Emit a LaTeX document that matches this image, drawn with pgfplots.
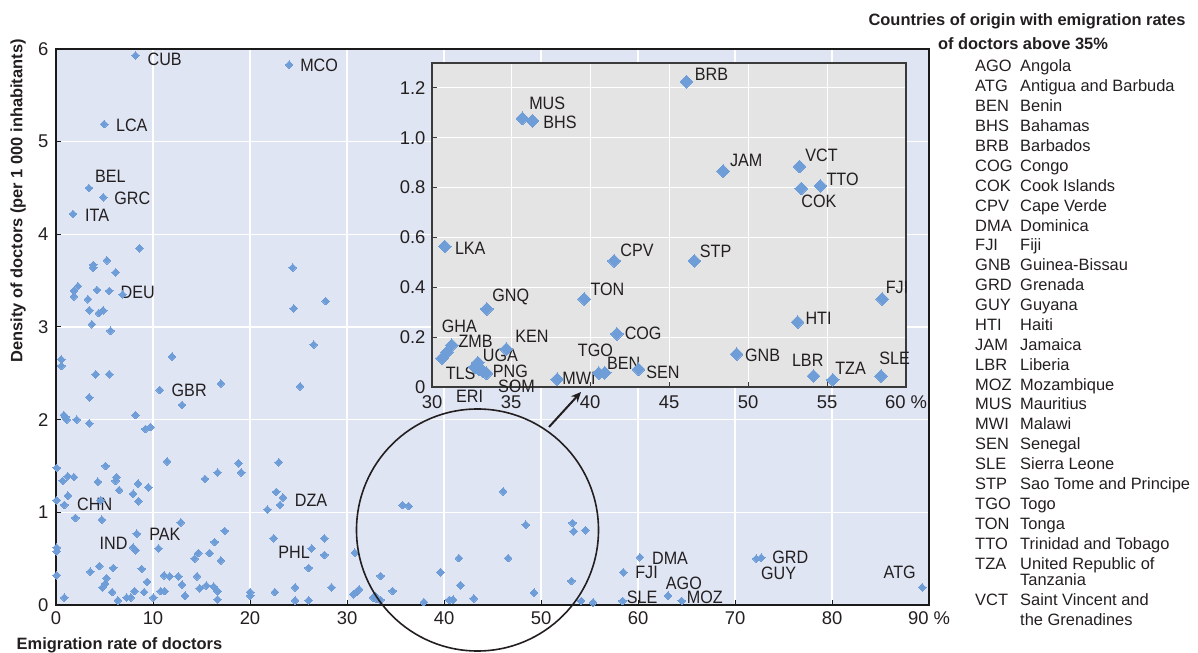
\documentclass[border=0pt]{standalone}
\usepackage{fontspec}
\setmainfont{Liberation Sans}
\newfontfamily\condfont{Liberation Sans}[FakeStretch=0.9]
\usepackage{pgfplots}
\pgfplotsset{compat=1.18}
\usepackage{pgfplotstable}
\usetikzlibrary{arrows.meta}
\definecolor{bgmain}{HTML}{DFE5F3}
\definecolor{bginset}{HTML}{E4E4E4}
\definecolor{mk}{HTML}{6F9DD8}
\definecolor{txt}{HTML}{231F20}
\definecolor{frame}{HTML}{1A1A1A}
\definecolor{iframe}{HTML}{3A3A3A}

% countries with emigration rate below 30 %
\pgfplotstableread{
x y
8.19 5.93
24.03 5.83
4.97 5.19
3.39 4.50
4.87 4.40
1.75 4.22
8.6 3.85
5.25 3.72
3.84 3.67
3.84 3.64
6.14 3.59
2.26 3.44
1.85 3.39
4.22 3.40
5.49 3.39
6.86 3.35
1.85 3.33
3.29 3.30
3.43 3.18
4.42 3.15
4.87 3.18
3.70 3.03
5.62 2.96
24.4 3.64
24.5 3.20
27.8 3.28
0.55 2.65
0.55 2.58
4.08 2.49
5.49 2.49
11.96 2.68
26.57 2.81
17.0 2.39
25.16 2.36
10.70 2.32
12.99 2.16
3.43 2.24
0.82 2.05
0.96 2.03
1.10 2.00
2.13 2.00
3.43 1.96
8.19 2.05
9.22 1.90
9.74 1.92
0.07 1.48
5.11 1.50
11.45 1.55
18.82 1.53
19.1 1.43
16.66 1.43
15.36 1.36
22.97 1.54
1.20 1.39
1.85 1.38
0.69 1.34
6.24 1.38
6.14 1.34
4.32 1.33
8.47 1.31
9.53 1.27
6.51 1.24
1.23 1.18
0.07 1.13
7.95 1.20
8.50 1.12
0.86 1.08
4.6 1.13
22.7 1.22
23.4 1.16
23.1 1.08
21.8 1.03
2.0 0.94
4.73 0.92
12.86 0.89
8.33 0.77
7.95 0.62
8.22 0.59
17.4 0.80
22.45 0.72
27.67 0.72
27.67 0.54
16.35 0.68
10.56 0.61
14.67 0.56
15.84 0.56
14.29 0.50
17.0 0.48
26.36 0.61
26.05 0.40
0.07 0.62
0.07 0.58
0.07 0.32
4.46 0.42
3.53 0.36
5.9 0.40
8.84 0.39
9.39 0.25
5.21 0.29
5.07 0.23
4.80 0.19
5.79 0.14
8.09 0.15
9.08 0.14
7.27 0.08
7.71 0.08
6.38 0.05
0.86 0.08
10.04 0.08
11.14 0.32
11.72 0.31
10.8 0.15
11.2 0.15
12.62 0.31
12.99 0.22
13.3 0.10
14.54 0.31
14.81 0.18
15.5 0.21
16.25 0.20
16.66 0.15
16.66 0.06
20.02 0.14
20.02 0.10
22.56 0.14
24.65 0.19
24.65 0.05
26.05 0.05
28.4 0.19
}\lowdata

% countries with emigration rate of 30 % and more
\pgfplotstableread{
x y
30.81 0.564
30.65 0.115
30.95 0.140
31.25 0.168
33.47 0.313
32.9 0.098
32.7 0.080
33.0 0.070
33.2 0.065
33.45 0.055
34.7 0.152
35.72 1.078
36.36 1.068
37.92 0.031
39.64 0.353
40.55 0.055
40.93 0.057
41.53 0.506
41.7 0.213
43.07 0.071
46.10 1.225
46.61 0.506
48.43 0.866
49.28 0.132
53.14 0.260
53.26 0.885
53.37 0.796
54.58 0.807
54.14 0.044
55.37 0.029
58.42 0.044
58.50 0.353
60.2 0.516
63.1 0.100
64.5 0.045
72.2 0.500
72.7 0.510
89.3 0.190
}\highdata

\tikzset{
  lab/.style={font=\condfont\fontsize{18}{18}\selectfont, inner sep=0pt, text=txt},
  leg/.style={font=\fontsize{16.5}{16.5}\selectfont, inner sep=0pt, text=txt, anchor=base west},
}

\begin{document}
\begin{tikzpicture}
\useasboundingbox (0,0) rectangle (1198bp,653bp);

\begin{axis}[
  at={(56bp,48bp)}, anchor=south west,
  scale only axis, width=873bp, height=556bp,
  xmin=0, xmax=90, ymin=0, ymax=6,
  axis background/.style={fill=bgmain},
  axis line style={draw=frame, line width=2bp},
  grid=major, grid style={white, line width=1.2bp},
  xtick={0,10,20,30,40,50,60,70,80,90},
  xticklabels={0,10,20,30,40,50,60,70,80,90 \%},
  ytick={0,1,2,3,4,5,6},
  yticklabels={0,1,2,3,4,5,6},
  tick style={draw=frame, line width=1bp},
  major tick length=5bp,
  xtick pos=bottom, ytick pos=left, tick align=inside,
  xticklabel style={font=\fontsize{18.5}{18.5}\selectfont, text=txt, yshift=-3bp},
  yticklabel style={font=\fontsize{18.5}{18.5}\selectfont, text=txt, xshift=-4bp},
  clip=false,
]
\addplot[only marks, mark=square*, mark size=2.7bp,
  mark options={rotate=45, fill=mk, draw=mk, line width=0pt}] table {\lowdata};
\addplot[only marks, mark=square*, mark size=2.7bp,
  mark options={rotate=45, fill=mk, draw=mk, line width=0pt}] table {\highdata};

\node[lab, anchor=west, xshift=12bp,  yshift=-3.7bp] at (axis cs:8.19,5.93) {CUB};
\node[lab, anchor=west, xshift=11bp,  yshift=-0.3bp] at (axis cs:24.03,5.83) {MCO};
\node[lab, anchor=west, xshift=11.7bp,yshift=-1.7bp] at (axis cs:4.97,5.19) {LCA};
\node[lab, anchor=west, xshift=6bp,   yshift=11.3bp] at (axis cs:3.39,4.50) {BEL};
\node[lab, anchor=west, xshift=11bp,  yshift=-1.3bp] at (axis cs:4.87,4.40) {GRC};
\node[lab, anchor=west, xshift=12bp,  yshift=-1bp]   at (axis cs:1.75,4.22) {ITA};
\node[lab, anchor=west, xshift=-2bp,  yshift=1.7bp]  at (axis cs:6.86,3.35) {DEU};
\node[lab, anchor=west, xshift=11.7bp,yshift=-0.7bp] at (axis cs:10.70,2.32) {GBR};
\node[lab, anchor=west, xshift=12.7bp,yshift=1bp]    at (axis cs:0.86,1.08) {CHN};
\node[lab, anchor=east, xshift=-5.4bp,yshift=4.4bp]  at (axis cs:7.95,0.62) {IND};
\node[lab, anchor=west, xshift=12.3bp,yshift=-0.7bp] at (axis cs:8.33,0.77) {PAK};
\node[lab, anchor=west, xshift=11.7bp,yshift=-2.7bp] at (axis cs:23.4,1.16) {DZA};
\node[lab, anchor=east, xshift=-1.7bp,yshift=-3.4bp] at (axis cs:26.36,0.61) {PHL};
\node[lab, anchor=west, xshift=12bp,  yshift=-0.7bp] at (axis cs:60.2,0.516) {DMA};
\node[lab, anchor=west, xshift=11.7bp,yshift=-0.6bp] at (axis cs:58.5,0.353) {FJI};
\node[lab, anchor=west, xshift=4bp,   yshift=3.3bp]  at (axis cs:58.42,0.044) {SLE};
\node[lab, anchor=west, xshift=-2.3bp,yshift=12.7bp] at (axis cs:63.1,0.10) {AGO};
\node[lab, anchor=west, xshift=5bp,   yshift=3.3bp]  at (axis cs:64.5,0.045) {MOZ};
\node[lab, anchor=west, xshift=11bp,  yshift=0bp]    at (axis cs:72.7,0.51) {GRD};
\node[lab, anchor=west, xshift=4.6bp, yshift=-15bp]  at (axis cs:72.2,0.50) {GUY};
\node[lab, anchor=east, xshift=-6.3bp,yshift=15.3bp] at (axis cs:89.3,0.19) {ATG};
\end{axis}

\draw[txt, line width=1.6bp] (477.5bp,123bp) circle[radius=121bp];
\draw[txt, line width=2bp, -{Stealth[length=10bp,width=9bp]}] (549bp,226bp) -- (581bp,261bp);

\begin{axis}[
  at={(432bp,266bp)}, anchor=south west,
  scale only axis, width=474bp, height=324bp,
  xmin=30, xmax=60, ymin=0, ymax=1.3,
  axis background/.style={fill=bginset},
  axis line style={draw=iframe, line width=1.3bp},
  grid=major, grid style={white, line width=1bp},
  xtick={30,35,40,45,50,55,60},
  xticklabels={30,35,40,45,50,55,60 \%},
  ytick={0,0.2,0.4,0.6,0.8,1.0,1.2},
  yticklabels={0,0.2,0.4,0.6,0.8,1.0,1.2},
  tick style={draw=iframe, line width=1bp},
  major tick length=5bp,
  xtick pos=bottom, ytick pos=left, tick align=inside,
  xticklabel style={font=\fontsize{18.5}{18.5}\selectfont, text=txt, yshift=-5bp},
  yticklabel style={font=\fontsize{18.5}{18.5}\selectfont, text=txt, xshift=-3bp},
  clip=false,
]
\addplot[only marks, mark=square*, mark size=4.5bp, restrict x to domain=30:60,
  mark options={rotate=45, fill=mk, draw=mk, line width=0pt}] table {\highdata};

\node[lab, anchor=west, xshift=8.3bp, yshift=7.3bp]  at (axis cs:46.10,1.225) {BRB};
\node[lab, anchor=west, xshift=6.7bp, yshift=15bp]   at (axis cs:35.72,1.078) {MUS};
\node[lab, anchor=west, xshift=10.7bp,yshift=-2bp]   at (axis cs:36.36,1.068) {BHS};
\node[lab, anchor=west, xshift=6.7bp, yshift=10.7bp] at (axis cs:48.43,0.866) {JAM};
\node[lab, anchor=west, xshift=5.7bp, yshift=11bp]   at (axis cs:53.26,0.885) {VCT};
\node[lab, anchor=west, xshift=6bp,   yshift=7bp]    at (axis cs:54.58,0.807) {TTO};
\node[lab, anchor=west, xshift=0bp,   yshift=-12.3bp]at (axis cs:53.37,0.796) {COK};
\node[lab, anchor=west, xshift=10bp,  yshift=-1.7bp] at (axis cs:30.81,0.564) {LKA};
\node[lab, anchor=west, xshift=6bp,   yshift=10.3bp] at (axis cs:41.53,0.506) {CPV};
\node[lab, anchor=west, xshift=5.3bp, yshift=10bp]   at (axis cs:46.61,0.506) {STP};
\node[lab, anchor=west, xshift=6bp,   yshift=10bp]   at (axis cs:39.64,0.353) {TON};
\node[lab, anchor=west, xshift=5.3bp, yshift=12.3bp] at (axis cs:33.47,0.313) {GNQ};
\node[lab, anchor=west, xshift=3.3bp, yshift=11.7bp] at (axis cs:58.50,0.353) {FJI};
\node[lab, anchor=west, xshift=7.7bp, yshift=3.7bp]  at (axis cs:53.14,0.260) {HTI};
\node[lab, anchor=west, xshift=7.7bp, yshift=0.3bp]  at (axis cs:41.7,0.213) {COG};
\node[lab, anchor=west, xshift=8.3bp, yshift=-1.7bp] at (axis cs:49.28,0.132) {GNB};
\node[lab, anchor=west, xshift=-5.3bp,yshift=25.4bp] at (axis cs:30.95,0.140) {GHA};
\node[lab, anchor=west, xshift=6.6bp, yshift=3.4bp]  at (axis cs:31.25,0.168) {ZMB};
\node[lab, anchor=west, xshift=9bp,   yshift=12.7bp] at (axis cs:34.7,0.152) {KEN};
\node[lab, anchor=west, xshift=4.9bp, yshift=6.8bp]  at (axis cs:32.9,0.098) {UGA};
\node[lab, anchor=east, xshift=1bp,   yshift=-6bp]   at (axis cs:32.7,0.080) {TLS};
\node[lab, anchor=west, xshift=6.2bp, yshift=2.2bp]  at (axis cs:33.45,0.055) {PNG};
\node[lab, anchor=west, xshift=15.4bp,yshift=-15.4bp]at (axis cs:33.2,0.065) {SOM};
\node[lab, anchor=west, xshift=-23.4bp,yshift=-27bp] at (axis cs:33.0,0.070) {ERI};
\node[lab, anchor=west, xshift=5bp,   yshift=1bp]    at (axis cs:37.92,0.031) {MWI};
\node[lab, anchor=west, xshift=-21bp, yshift=22.6bp] at (axis cs:40.55,0.055) {TGO};
\node[lab, anchor=west, xshift=2.3bp, yshift=9.5bp]  at (axis cs:40.93,0.057) {BEN};
\node[lab, anchor=west, xshift=7.7bp, yshift=-3bp]   at (axis cs:43.07,0.071) {SEN};
\node[lab, anchor=west, xshift=-21.6bp,yshift=15.3bp]at (axis cs:54.14,0.044) {LBR};
\node[lab, anchor=west, xshift=2.3bp, yshift=11.7bp] at (axis cs:55.37,0.029) {TZA};
\node[lab, anchor=west, xshift=-1.9bp,yshift=17.7bp] at (axis cs:58.42,0.044) {SLE};
\end{axis}

% axis titles
\node[font=\bfseries\fontsize{16.5}{16.5}\selectfont, text=txt, inner sep=0pt, anchor=base west]
  at (16.5bp,4bp) {Emigration rate of doctors};
\node[font=\bfseries\fontsize{16.5}{16.5}\selectfont, text=txt, inner sep=0pt, rotate=90]
  at (18bp,452bp) {Density of doctors (per 1 000 inhabitants)};

% key of country codes
\node[font=\bfseries\fontsize{16.5}{16.5}\selectfont, text=txt, inner sep=0pt, anchor=base]
  at (1027bp,627bp) {Countries of origin with emigration rates};
\node[font=\bfseries\fontsize{16.5}{16.5}\selectfont, text=txt, inner sep=0pt, anchor=base]
  at (1023bp,603bp) {of doctors above 35\%};
\foreach \c/\n [count=\i from 0] in {AGO/Angola, ATG/Antigua and Barbuda, BEN/Benin,
  BHS/Bahamas, BRB/Barbados, COG/Congo, COK/Cook Islands, CPV/Cape Verde, DMA/Dominica,
  FJI/Fiji, GNB/Guinea-Bissau, GRD/Grenada, GUY/Guyana, HTI/Haiti, JAM/Jamaica,
  LBR/Liberia, MOZ/Mozambique, MUS/Mauritius, MWI/Malawi, SEN/Senegal, SLE/Sierra Leone,
  STP/Sao Tome and Principe, TGO/Togo, TON/Tonga, TTO/Trinidad and Tobago,
  TZA/United Republic of}{
  \node[leg] at (975bp,{(581-19.88*\i)*1bp}) {\c};
  \node[leg] at (1020bp,{(581-19.88*\i)*1bp}) {\n};
}
\node[leg] at (1020bp,67bp) {Tanzania};
\node[leg] at (975bp,47bp) {VCT};
\node[leg] at (1020bp,47bp) {Saint Vincent and};
\node[leg] at (1020bp,28bp) {the Grenadines};
\end{tikzpicture}
\end{document}
